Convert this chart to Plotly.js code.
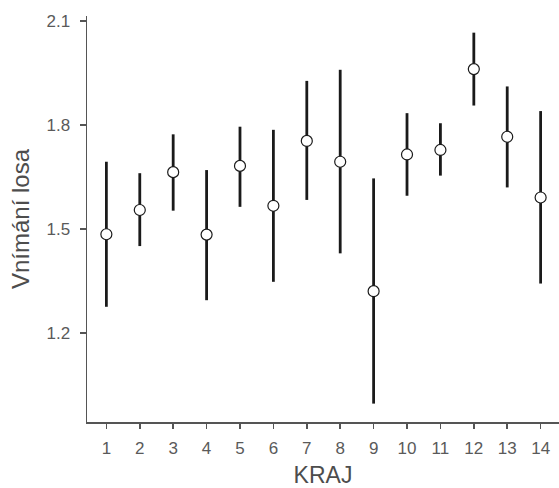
<!DOCTYPE html>
<html><head><meta charset="utf-8">
<script src="https://cdn.plot.ly/plotly-3.0.1.min.js"></script>
<style>body{margin:0;background:#fff}#c{width:559px;height:488px}</style>
</head><body><div id="c"></div>
<script>
var kraj = [1,2,3,4,5,6,7,8,9,10,11,12,13,14];
var mean = [1.485,1.555,1.664,1.484,1.682,1.567,1.754,1.694,1.321,1.715,1.728,1.961,1.766,1.591];
var upper = [1.694,1.661,1.773,1.670,1.795,1.786,1.927,1.959,1.646,1.834,1.805,2.066,1.911,1.840];
var lower = [1.276,1.451,1.553,1.295,1.564,1.348,1.584,1.430,0.997,1.596,1.654,1.856,1.620,1.343];
var yTicks = [1.2,1.5,1.8,2.1];

var errPlus = upper.map(function(u,i){return u-mean[i];});
var errMinus = lower.map(function(l,i){return mean[i]-l;});

var trace = {
  x: kraj, y: mean, type: 'scatter', mode: 'markers',
  marker: {size: 11, color: '#ffffff', line: {color: '#1a1a1a', width: 1.2}},
  error_y: {type: 'data', symmetric: false, array: errPlus, arrayminus: errMinus,
            color: '#1a1a1a', thickness: 2.8, width: 0},
  hoverinfo: 'skip'
};
var gray = '#4d4d4d';
var layout = {
  width: 559, height: 488,
  margin: {l: 87, r: 0, t: 16, b: 66},
  paper_bgcolor: '#fff', plot_bgcolor: '#fff',
  showlegend: false,
  font: {family: 'Liberation Sans, Arial, sans-serif', color: gray},
  xaxis: {
    range: [0.42, 14.55], tickvals: kraj, ticktext: kraj.map(String),
    showgrid: false, zeroline: false, showline: true, linecolor: '#555', linewidth: 1.5,
    ticks: 'outside', ticklen: 5, tickwidth: 1.5, tickcolor: '#555',
    ticklabelstandoff: 5,
    tickfont: {size: 17, color: '#5a5a5a'},
    title: {text: 'KRAJ', font: {size: 23, color: gray}, standoff: 11}
  },
  yaxis: {
    range: [0.944, 2.114], tickvals: yTicks, ticktext: yTicks.map(function(v){return v.toFixed(1);}),
    showgrid: false, zeroline: false, showline: true, linecolor: '#555', linewidth: 1.5,
    ticks: 'outside', ticklen: 6, tickwidth: 1.5, tickcolor: '#555',
    ticklabelstandoff: 6,
    tickfont: {size: 17, color: '#5a5a5a'},
    title: {text: 'Vnímání losa', font: {size: 24, color: gray}, standoff: 10}
  }
};
Plotly.newPlot('c', [trace], layout, {displayModeBar: false, staticPlot: true});
</script></body></html>
